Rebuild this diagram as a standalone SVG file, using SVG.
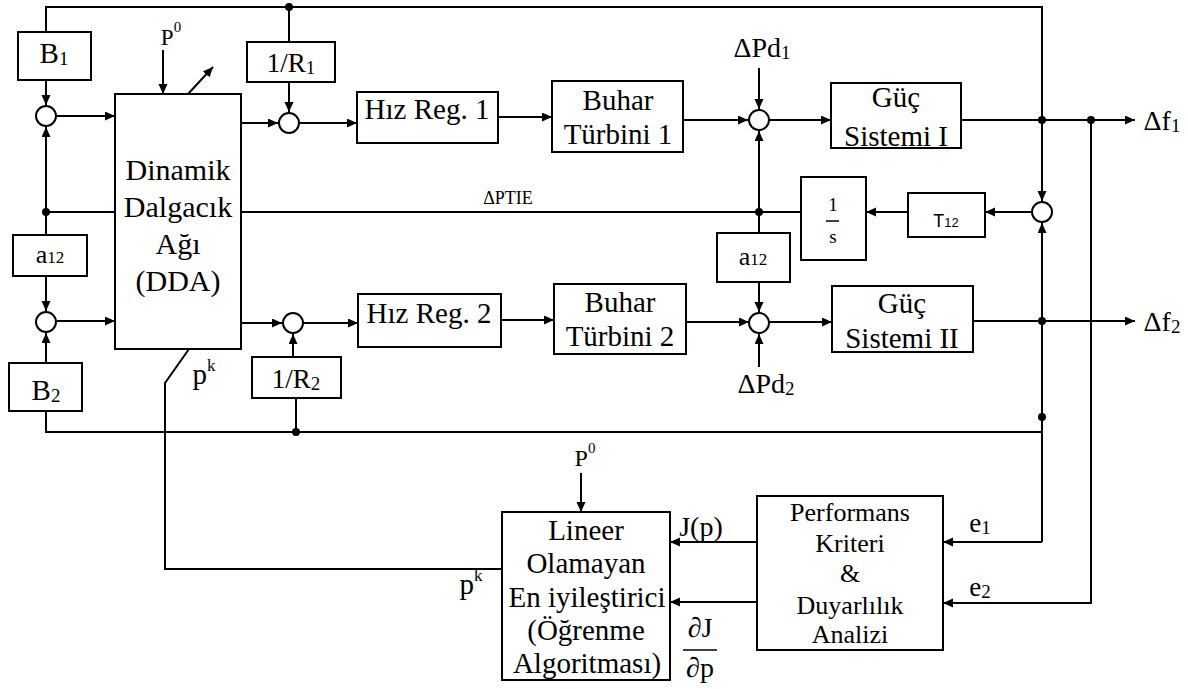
<svg xmlns="http://www.w3.org/2000/svg" width="1188" height="689" viewBox="0 0 1188 689">
<style>
.ln{stroke:#000;stroke-width:2;fill:none}
.ar{stroke:#000;stroke-width:2;fill:none;marker-end:url(#ah)}
.box{fill:#fff;stroke:#000;stroke-width:2}
.sum{fill:#fff;stroke:#000;stroke-width:2}
.dot{fill:#000}
text{font-family:"Liberation Serif","Times New Roman",serif;font-size:29px;text-anchor:middle;fill:#000}
.s{font-size:19px}
.sans{font-family:"Liberation Sans",Arial,sans-serif}
</style>
<defs>
<marker id="ah" markerUnits="userSpaceOnUse" markerWidth="11" markerHeight="10" refX="10" refY="4.5" orient="auto">
<path d="M0,0 L10,4.5 L0,9 z" fill="#000"/>
</marker>
</defs>
<rect width="1188" height="689" fill="#fff"/>

<g id="connectors">
<path class="ar" d="M46,32 V7 H1042 V201"/>
<path class="ln" d="M289,7 V42"/>
<path class="ar" d="M289,82 V112"/>
<path class="ar" d="M46,80 V105"/>
<path class="ar" d="M56,116 H115"/>
<path class="ar" d="M241,123 H278"/>
<path class="ar" d="M299,123 H357"/>
<path class="ar" d="M498,117 H552"/>
<path class="ar" d="M683,120 H748"/>
<path class="ar" d="M759,68 V109"/>
<path class="ar" d="M769,120 H831"/>
<path class="ar" d="M961,120 H1135"/>
<path class="ar" d="M1091,120 V603 H943"/>
<path class="ar" d="M1032,212 H985"/>
<path class="ar" d="M908,212 H866"/>
<path class="ln" d="M801,212 H241"/>
<path class="ln" d="M115,212 H46"/>
<path class="ar" d="M759,212 V131"/>
<path class="ln" d="M759,212 V233"/>
<path class="ar" d="M759,282 V312"/>
<path class="ar" d="M759,367 V334"/>
<path class="ar" d="M686,322 H749"/>
<path class="ar" d="M769,322 H832"/>
<path class="ar" d="M501,320 H554"/>
<path class="ar" d="M303,323 H358"/>
<path class="ar" d="M241,323 H282"/>
<path class="ar" d="M293,357 V334"/>
<path class="ln" d="M296,432 V398"/>
<path class="ln" d="M46,411 V432 H1042"/>
<path class="ar" d="M1042,542 V223"/>
<path class="ln" d="M973,321 H1042"/>
<path class="ar" d="M1042,321 H1135"/>
<path class="ar" d="M1042,542 H943"/>
<path class="ar" d="M757,542 H670"/>
<path class="ar" d="M757,602 H670"/>
<path class="ar" d="M581,473 V512"/>
<path class="ar" d="M163,50 V94"/>
<path class="ar" d="M188,94 L213,67"/>
<path class="ln" d="M189,349 L165,383 V569 H502"/>
<path class="ar" d="M46,235 V127"/>
<path class="ar" d="M46,276 V311"/>
<path class="ar" d="M46,363 V333"/>
<path class="ar" d="M56,321 H115"/>
<circle class="dot" cx="289" cy="7" r="4"/>
<circle class="dot" cx="1042" cy="120" r="4"/>
<circle class="dot" cx="1091" cy="120" r="4"/>
<circle class="dot" cx="46" cy="212" r="4"/>
<circle class="dot" cx="759" cy="212" r="4"/>
<circle class="dot" cx="1042" cy="321" r="4"/>
<circle class="dot" cx="1042" cy="417" r="4"/>
<circle class="dot" cx="296" cy="432" r="4"/>
</g>

<g id="sum1"><circle class="sum" cx="46" cy="116" r="10"/></g>
<g id="sum2"><circle class="sum" cx="289" cy="123" r="10"/></g>
<g id="sum3"><circle class="sum" cx="759" cy="120" r="10"/></g>
<g id="sum4"><circle class="sum" cx="1042" cy="212" r="10"/></g>
<g id="sum5"><circle class="sum" cx="46" cy="322" r="10"/></g>
<g id="sum6"><circle class="sum" cx="293" cy="323" r="10"/></g>
<g id="sum7"><circle class="sum" cx="759" cy="323" r="10"/></g>

<g id="B1"><rect class="box" x="18" y="32" width="73" height="48"/><text x="54" y="63">B<tspan class="s" dy="2">1</tspan></text></g>
<g id="R1"><rect class="box" x="247" y="42" width="88" height="40"/><text x="291" y="72" style="font-size:27px">1/R<tspan class="s" dy="2">1</tspan></text></g>
<g id="DDA"><rect class="box" x="115" y="94" width="126" height="255"/>
<text x="178" y="180" style="font-size:30px">Dinamik</text>
<text x="178" y="217" style="font-size:30px">Dalgacık</text>
<text x="178" y="254" style="font-size:30px">Ağı</text>
<text x="178" y="291" style="font-size:30px">(DDA)</text></g>
<g id="P0top"><text x="171" y="45" style="font-size:23px">P<tspan style="font-size:15px" dy="-13">0</tspan></text></g>
<g id="HR1"><rect class="box" x="357" y="92" width="141" height="51"/><text x="427" y="119">Hız Reg. 1</text></g>
<g id="BT1"><rect class="box" x="552" y="81" width="131" height="71"/><text x="618" y="110">Buhar</text><text x="618" y="144">Türbini 1</text></g>
<g id="Pd1"><text x="762" y="57" style="font-size:28px">ΔPd<tspan class="s" dy="2">1</tspan></text></g>
<g id="GS1"><rect class="box" x="831" y="83" width="130" height="65"/><text x="896" y="107">Güç</text><text x="896" y="146">Sistemi I</text></g>
<g id="f1"><text x="1162" y="130" style="font-size:28px">Δf<tspan class="s" dy="2">1</tspan></text></g>
<g id="PTIE"><text x="508" y="204" style="font-size:18px">ΔPTIE</text></g>
<g id="INT"><rect class="box" x="801" y="177" width="65" height="83"/><text x="833" y="211" style="font-size:19px">1</text><line class="ln" x1="826" y1="221" x2="839" y2="221" style="stroke-width:1.5"/><text x="833" y="243" style="font-size:19px">s</text></g>
<g id="T12"><rect class="box" x="908" y="193" width="77" height="44"/><text class="sans" x="946" y="227" style="font-size:18px">T<tspan style="font-size:13px">12</tspan></text></g>
<g id="a12L"><rect class="box" x="13" y="235" width="74" height="41"/><text x="50" y="263" style="font-size:26px">a<tspan style="font-size:17px">12</tspan></text></g>
<g id="a12M"><rect class="box" x="717" y="233" width="73" height="49"/><text x="753" y="265" style="font-size:26px">a<tspan style="font-size:17px">12</tspan></text></g>
<g id="HR2"><rect class="box" x="358" y="294" width="143" height="53"/><text x="429" y="323">Hız Reg. 2</text></g>
<g id="BT2"><rect class="box" x="554" y="284" width="132" height="70"/><text x="620" y="312">Buhar</text><text x="620" y="346">Türbini 2</text></g>
<g id="Pd2"><text x="766" y="393" style="font-size:28px">ΔPd<tspan class="s" dy="2">2</tspan></text></g>
<g id="GS2"><rect class="box" x="832" y="286" width="141" height="66"/><text x="902" y="313">Güç</text><text x="902" y="348">Sistemi II</text></g>
<g id="f2"><text x="1162" y="331" style="font-size:28px">Δf<tspan class="s" dy="2">2</tspan></text></g>
<g id="B2"><rect class="box" x="9" y="363" width="73" height="48"/><text x="46" y="400">B<tspan class="s" dy="2">2</tspan></text></g>
<g id="R2"><rect class="box" x="252" y="357" width="89" height="41"/><text x="296" y="388" style="font-size:27px">1/R<tspan class="s" dy="2">2</tspan></text></g>
<g id="pk1"><text x="204" y="384" style="font-size:29px">p<tspan style="font-size:17px" dy="-13">k</tspan></text></g>
<g id="P0bot"><text x="585" y="466" style="font-size:24px">P<tspan style="font-size:15px" dy="-13">0</tspan></text></g>
<g id="pk2"><text x="471" y="594" style="font-size:29px">p<tspan style="font-size:17px" dy="-13">k</tspan></text></g>
<g id="LOE"><rect class="box" x="502" y="512" width="168" height="168"/>
<text x="586" y="540">Lineer</text>
<text x="586" y="573">Olamayan</text>
<text x="587" y="607">En iyileştirici</text>
<text x="586" y="640">(Öğrenme</text>
<text x="587" y="673">Algoritması)</text></g>
<g id="Jp"><text x="701" y="536" style="font-size:28px">J(p)</text></g>
<g id="dJdp"><text x="700" y="637" style="font-size:28px">∂J</text><line class="ln" x1="683" y1="650" x2="717" y2="650" style="stroke-width:1.5"/><text x="700" y="677" style="font-size:28px">∂p</text></g>
<g id="PKDA"><rect class="box" x="757" y="496" width="186" height="154"/>
<text x="850" y="521" style="font-size:26px">Performans</text>
<text x="850" y="552" style="font-size:26px">Kriteri</text>
<text x="850" y="582" style="font-size:26px">&amp;</text>
<text x="850" y="614" style="font-size:26px">Duyarlılık</text>
<text x="850" y="643" style="font-size:26px">Analizi</text></g>
<g id="e1"><text x="980" y="532" style="font-size:27px">e<tspan class="s" dy="2">1</tspan></text></g>
<g id="e2"><text x="980" y="596" style="font-size:27px">e<tspan class="s" dy="2">2</tspan></text></g>
</svg>
